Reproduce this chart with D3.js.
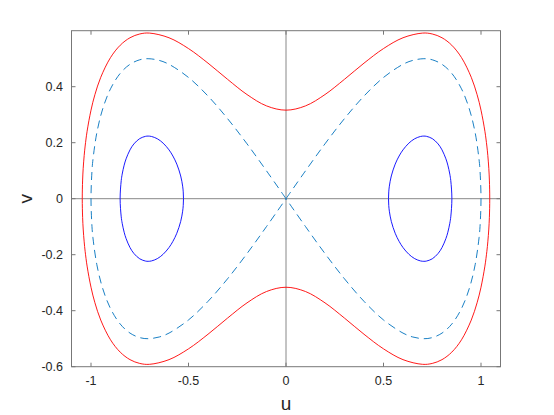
<!DOCTYPE html>
<html><head><meta charset="utf-8">
<script src="https://cdn.jsdelivr.net/npm/d3@7"></script>
<style>html,body{margin:0;padding:0;background:#fff}</style>
</head><body>
<svg id="c" width="554" height="415"></svg>
<script>
// First-quadrant samples (curves are symmetric in u and v)
const redU = [0, 0.1, 0.2, 0.3, 0.4, 0.5, 0.6, 0.7, 0.75, 0.8, 0.85, 0.9, 0.95, 0.98, 1.0, 1.02, 1.03, 1.035, 1.04, 1.043, 1.0448];
const redV = [0.3162, 0.3315, 0.3720, 0.4265, 0.4841, 0.5362, 0.5748, 0.5915, 0.5883, 0.5748, 0.5482, 0.5039, 0.4336, 0.3715, 0.3162, 0.2408, 0.1881, 0.1540, 0.1084, 0.0666, 0];

const sepU = [0, 0.1, 0.2, 0.3, 0.4, 0.5, 0.6, 0.65, 0.7071, 0.75, 0.8, 0.85, 0.9, 0.94, 0.97, 0.99, 0.995, 1.0];
const sepV = [0, 0.0995, 0.1960, 0.2862, 0.3666, 0.4330, 0.48, 0.4939, 0.5, 0.4961, 0.48, 0.4478, 0.3923, 0.3207, 0.2358, 0.1397, 0.0994, 0];

const blueU = [0.5257, 0.527, 0.53, 0.54, 0.56, 0.58, 0.60, 0.63, 0.66, 0.69, 0.7071, 0.72, 0.75, 0.78, 0.80, 0.82, 0.83, 0.84, 0.845, 0.8507];
const blueV = [0, 0.0244, 0.0447, 0.0811, 0.1235, 0.1524, 0.1744, 0.1984, 0.2141, 0.2223, 0.2236, 0.2228, 0.2147, 0.1956, 0.1744, 0.1424, 0.1197, 0.0879, 0.0648, 0];

const xTicks = [-1, -0.5, 0, 0.5, 1];
const yTicks = [-0.6, -0.4, -0.2, 0, 0.2, 0.4];

const svg = d3.select("#c");
const x = d3.scaleLinear().domain([-1.1, 1.1]).range([71.5, 500.5]);
const y = d3.scaleLinear().domain([-0.6, 0.6]).range([366.7, 30.7]);
const font = "'Liberation Sans', Arial, sans-serif";
const axisCol = "#777";

// zero lines
svg.append("line").attr("x1", x(0)).attr("x2", x(0)).attr("y1", y(0.6)).attr("y2", y(-0.6))
  .attr("stroke", "#888").attr("stroke-width", 1);
svg.append("line").attr("x1", x(-1.1)).attr("x2", x(1.1)).attr("y1", y(0)).attr("y2", y(0))
  .attr("stroke", "#888").attr("stroke-width", 1);

const line = d3.line().x(d => x(d[0])).y(d => y(d[1]));

// Red closed orbit
const redUpper = redU.map((u, i) => [u, redV[i]]);
let redPts = [];
redUpper.slice().reverse().forEach(p => redPts.push([-p[0], p[1]]));
redUpper.slice(1).forEach(p => redPts.push([p[0], p[1]]));
redUpper.slice(0, -1).reverse().forEach(p => redPts.push([p[0], -p[1]]));
redUpper.slice(1, -1).forEach(p => redPts.push([-p[0], -p[1]]));
svg.append("path").attr("d", line.curve(d3.curveCatmullRomClosed)(redPts))
  .attr("fill", "none").attr("stroke", "#ff0000").attr("stroke-width", 0.9);

// Separatrix (dashed), one loop per side
[1, -1].forEach(s => {
  const up = sepU.map((u, i) => [s * u, sepV[i]]);
  const down = sepU.map((u, i) => [s * u, -sepV[i]]).reverse().slice(1);
  svg.append("path").attr("d", line.curve(d3.curveCatmullRom)(up.concat(down)))
    .attr("fill", "none").attr("stroke", "#0072bd").attr("stroke-width", 0.9)
    .attr("stroke-dasharray", "8,5");
});

// Blue closed orbits
[1, -1].forEach(s => {
  const up = blueU.map((u, i) => [s * u, blueV[i]]);
  const down = blueU.map((u, i) => [s * u, -blueV[i]]).slice(1, -1).reverse();
  svg.append("path").attr("d", line.curve(d3.curveCatmullRomClosed)(up.concat(down)))
    .attr("fill", "none").attr("stroke", "#0000ff").attr("stroke-width", 0.9);
});

// Box
svg.append("rect").attr("x", x(-1.1)).attr("y", y(0.6)).attr("width", x(1.1) - x(-1.1)).attr("height", y(-0.6) - y(0.6))
  .attr("fill", "none").attr("stroke", axisCol).attr("stroke-width", 1);

const fmt = v => (Math.abs(v) < 1e-9 ? "0" : String(+v.toFixed(2)));
xTicks.forEach(t => {
  svg.append("line").attr("x1", x(t)).attr("x2", x(t)).attr("y1", y(-0.6)).attr("y2", y(-0.6) - 4).attr("stroke", axisCol);
  svg.append("line").attr("x1", x(t)).attr("x2", x(t)).attr("y1", y(0.6)).attr("y2", y(0.6) + 4).attr("stroke", axisCol);
  svg.append("text").attr("x", x(t)).attr("y", 385).attr("text-anchor", "middle")
    .attr("font-family", font).attr("font-size", 12.5).attr("fill", "#262626").text(fmt(t));
});
yTicks.forEach(t => {
  svg.append("line").attr("x1", x(-1.1)).attr("x2", x(-1.1) + 4).attr("y1", y(t)).attr("y2", y(t)).attr("stroke", axisCol);
  svg.append("line").attr("x1", x(1.1)).attr("x2", x(1.1) - 4).attr("y1", y(t)).attr("y2", y(t)).attr("stroke", axisCol);
  svg.append("text").attr("x", 63).attr("y", y(t) + 4.5).attr("text-anchor", "end")
    .attr("font-family", font).attr("font-size", 12.5).attr("fill", "#262626").text(fmt(t));
});

svg.append("text").attr("x", x(0)).attr("y", 410).attr("text-anchor", "middle")
  .attr("font-family", font).attr("font-size", 19).attr("fill", "#262626").text("u");
svg.append("text").attr("transform", `translate(32,${y(0)}) rotate(-90)`).attr("text-anchor", "middle")
  .attr("font-family", font).attr("font-size", 19).attr("fill", "#262626").text("v");
</script>
</body></html>
